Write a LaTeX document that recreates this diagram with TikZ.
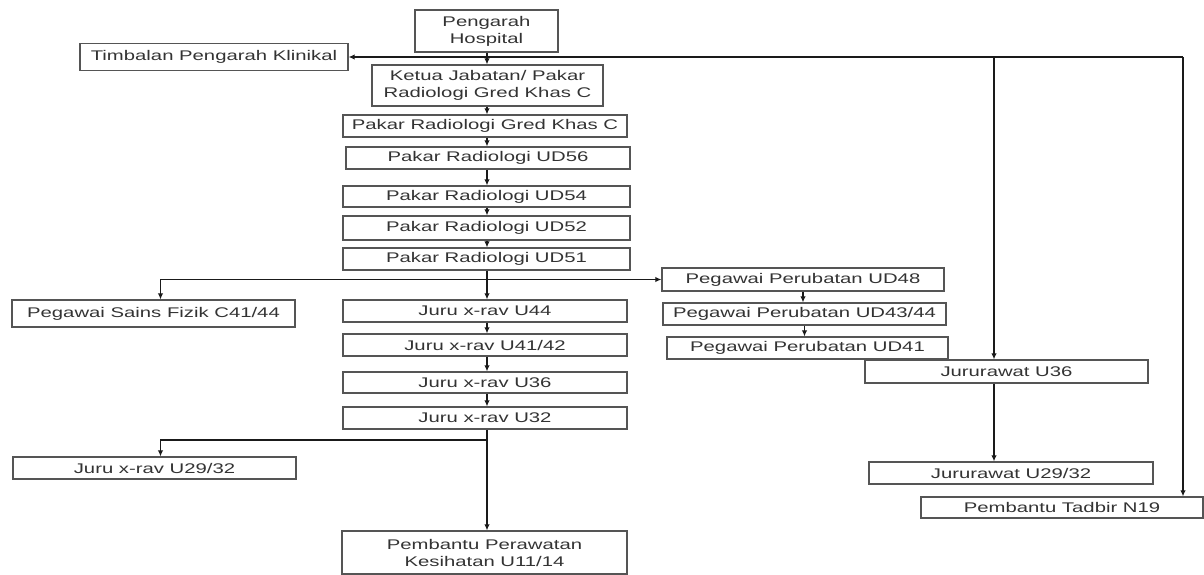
\documentclass[tikz,border=0pt]{standalone}
\usepackage{fontspec}
\setmainfont[FakeStretch=1.45]{Liberation Sans}
\usetikzlibrary{arrows.meta}
\definecolor{BoxLine}{HTML}{555555}
\definecolor{BoxText}{HTML}{333333}
\definecolor{LinkLine}{HTML}{1A1A1A}

\begin{document}
\begin{tikzpicture}[x=1pt, y=-1pt,
    post/.style={draw=BoxLine, line width=1.3pt, inner sep=0pt, align=center,
      text=BoxText, font=\fontsize{14}{17}\selectfont,
      minimum width=284pt, minimum height=22pt},
    arr/.style={LinkLine, line width=1.3pt, -{Latex[length=6pt,width=5.5pt]}},
    link/.style={LinkLine, line width=1.3pt}]
    \useasboundingbox (0,0) rectangle (1204,575);
    % top of the chart
    \node[post, minimum width=143pt, minimum height=42pt] (pengarah) at (486.5,31)
      {Pengarah\\Hospital};
    \node[post, minimum width=268pt, minimum height=27pt] (timbalan) at (214,57)
      {Timbalan Pengarah Klinikal};
    \node[post, minimum width=231pt, minimum height=41pt] (ketua) at (487.5,85.5)
      {Ketua Jabatan/ Pakar\\Radiologi Gred Khas C};
    % radiology column
    \node[post] (gredkhas) at (485,126) {Pakar Radiologi Gred Khas C};
    \node[post] (ud56) at (488,158) {Pakar Radiologi UD56};
    \node[post, minimum width=287pt, minimum height=21pt] (ud54) at (486.5,196.5)
      {Pakar Radiologi UD54};
    \node[post, minimum width=287pt, minimum height=24pt] (ud52) at (486.5,228)
      {Pakar Radiologi UD52};
    \node[post, minimum width=287pt] (ud51) at (486.5,259) {Pakar Radiologi UD51};
    % x-ray column
    \node[post] (u44) at (485,311) {Juru x-rav U44};
    \node[post] (u4142) at (485,345) {Juru x-rav U41/42};
    \node[post, minimum height=21pt] (u36) at (485,382.5) {Juru x-rav U36};
    \node[post] (u32) at (485,418) {Juru x-rav U32};
    \node[post, minimum width=285pt, minimum height=43pt] (perawatan) at (484.5,552.5)
      {Pembantu Perawatan\\Kesihatan U11/14};
    % left side
    \node[post, minimum width=283pt, minimum height=27pt] (sains) at (153.5,313.5)
      {Pegawai Sains Fizik C41/44};
    \node[post, minimum width=283pt] (u2932) at (154.5,468) {Juru x-rav U29/32};
    % medical officers
    \node[post, minimum width=282pt, minimum height=23pt] (ud48) at (803,279.5)
      {Pegawai Perubatan UD48};
    \node[post, minimum width=283pt] (ud4344) at (804.5,314) {Pegawai Perubatan UD43/44};
    \node[post, minimum width=281pt] (ud41) at (807.5,348) {Pegawai Perubatan UD41};
    % nurses and admin
    \node[post, minimum width=283pt, minimum height=23pt] (jr36) at (1006.5,371.5)
      {Jururawat U36};
    \node[post] (jr2932) at (1011,473) {Jururawat U29/32};
    \node[post, minimum width=282pt, minimum height=21pt] (tadbir) at (1062,507.5)
      {Pembantu Tadbir N19};
    % bus and fork points
    \coordinate (busM) at (994,57);
    \coordinate (busR) at (1183,57);
    \coordinate (fork1) at (487,279.5);
    \coordinate (fork2) at (487,440);
    % links
    \draw[arr] (busR) -- (timbalan.east);
    \draw[arr] (busM) -- (busM |- jr36.north);
    \draw[arr] (busR) -- (busR |- tadbir.north);
    \draw[arr] (jr36.south -| busM) -- (busM |- jr2932.north);
    \draw[arr] (pengarah.south -| fork1) -- (fork1 |- ketua.north);
    \foreach \a/\b in {ketua/gredkhas, gredkhas/ud56, ud56/ud54, ud54/ud52, ud52/ud51,
        u44/u4142, u4142/u36, u36/u32}
      \draw[arr] (\a.south -| fork1) -- (fork1 |- \b.north);
    \draw[link] (ud51.south -| fork1) -- (fork1);
    \draw[arr] (fork1) -- (fork1 |- u44.north);
    \draw[arr] (fork1) -| ([xshift=7pt]sains.north);
    \draw[arr] (fork1) -- (ud48.west);
    \foreach \a/\b in {ud48/ud4344, ud4344/ud41}
      \draw[arr] (\a.south) -- (\a.south |- \b.north);
    \draw[arr] (u32.south -| fork2) -- (fork2 |- perawatan.north);
    \draw[arr] (fork2) -| ([xshift=6pt]u2932.north);
\end{tikzpicture}
\end{document}
